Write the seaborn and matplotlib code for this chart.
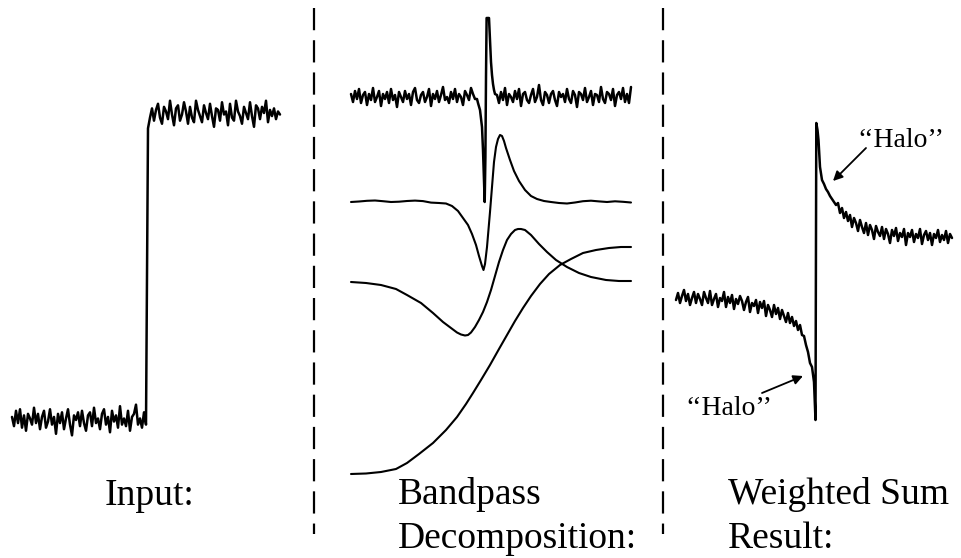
import numpy as np
import pandas as pd
import matplotlib
matplotlib.use("Agg")
import matplotlib.pyplot as plt
import seaborn as sns

# ---------------- data ----------------
# Input step signal, percent of step height, two noisy plateaus
input_low = [1, -2, 3, -1, 3.5, -2.5, 1.5, -3.5, 2, 0.5, -1.5, 4, -1, 2, -3, 1, 3, -2.5, -0.5, 3.5,
             -1.5, 1, -4.5, 2, -1, 2.5, -3, 0.5, 3.5, -1.5, -5, 1.5, 0, 2.5, -2, 3, -1, -3.5, 1.5, 2.5,
             -2, 4, -1, 0.5, -3, 2, 3.5, -1.5, 1, -4, 3, -0.5, 1.5, -2.5, 4.5, -1.5, 0.5, -2, 3, -3.5,
             1, 2, 5, -1.5, 0.5, -2.5, 2.5, -1.5]
input_high = [95, 98.5, 101.5, 97.5, 101, 103, 98.5, 96.5, 102, 100.5, 98, 104, 99.5, 96, 101.5, 102.5,
              97.5, 99.5, 103.5, 100.5, 96.5, 102, 98.5, 97, 104, 101, 99, 97, 102.5, 100, 98, 103, 99,
              95.5, 101.5, 101, 97.5, 103.5, 99.5, 100.5, 96, 103, 98.5, 97.5, 104, 100.5, 99, 96.5, 102,
              100, 98, 103.5, 99, 95.5, 102.5, 101.5, 98, 102, 100, 104, 97, 101, 99, 101.5, 98, 100.5, 99.5]

# Band 1 (finest scale): noise, spike, noise
band1_left = [3, -5, 6, -2, 8, -6, 2, 5, -8, 3, -3, 9, -5, 0, 6, -9, 3, -2, 5, -6, 8, -3, 2, -10, 5, 0,
              -5, 6, -2, 3, -8, 5, 9, -3, -6, 2, 5, -5, 0, 8, -9, 3, -2, 6, -5, 2, 10, -3, 0, -6, 5, -2,
              8, -5, 3, 0, -8, 6, 2, -3, 9, 3, -2]
band1_spike_t = [126, 127, 129, 131, 132, 133, 133.7, 134.4, 135.0, 135.6, 137, 138, 139, 140, 141, 142, 143, 144]
band1_spike_v = [-2, -6, -13, -30, -53, -85, -105, -60, 20, 79, 79, 79, 58, 35, 22, 13, 7, 3]
band1_right = [2, -6, 5, -3, 9, -8, 3, 0, -5, 6, -2, 8, -9, 3, 5, -3, -6, 2, 8, -5, 0, 12, -3, -8, 5, 2,
               -6, 3, 6, -3, -9, 5, 0, 3, -5, 8, -2, -6, 6, 2, -10, 5, 3, -3, 9, -5, 0, 6, -8, 3, 2, -5,
               10, -2, -6, 5, 3, -3, 8, -9, 2, 5, -2, 9, -5, 3, -6, 10]

band2_t = [0, 8, 16, 24, 32, 40, 48, 56, 64, 72, 80, 88, 95, 101, 107, 112, 117, 121, 125, 128,
           131, 132.5, 134, 136, 139, 141, 143, 145, 147, 149, 151, 153, 155, 159, 163, 168, 174, 180,
           186, 193, 200, 208, 216, 224, 232, 240, 248, 256, 264, 272, 280]
band2_v = [0, 0.5, 1.2, 1.5, 0.8, 0, 0.3, 1.0, 1.4, 0.9, -0.6, -1.0, -1.5, -4, -9, -16, -23, -32, -43,
           -54, -64, -68, -62, -45, -10, 15, 40, 55, 63, 67, 66, 61, 54, 42, 31, 21, 12, 6, 3, 1, 0, -1,
           -1.5, -0.5, 0.8, 1.3, 0.6, 0, 0.7, 0.2, -0.5]

band3_t = [0, 15, 30, 45, 56, 70, 82, 92, 100, 106, 110, 114, 117, 120, 124, 128, 132, 136, 140, 144,
           148, 152, 156, 160, 164, 167, 170, 174, 180, 188, 196, 205, 216, 228, 240, 255, 268, 280]
band3_v = [0, -1, -3, -7, -13, -21, -31, -40, -46, -50.5, -52.5, -53.5, -53, -50.5, -45, -38, -30, -20,
           -8, 6, 20, 32, 42, 48, 52, 53, 53, 52, 47, 38, 30, 22, 15, 9, 5, 2, 1, 1]

band4_t = [0, 15, 30, 45, 56, 68, 82, 95, 106, 115, 122, 130, 139, 148, 156, 164, 172, 180, 189, 198,
           209, 220, 232, 245, 258, 270, 280]
band4_v = [0, 0.5, 2, 5, 11, 20, 31, 44, 57, 70, 81, 94, 109, 125, 139, 153, 166, 178, 190, 200, 209,
           215, 221, 224, 226, 227, 227]

# Weighted-sum result
result_left = [120, 127, 117, 124, 130, 119, 126, 115, 122, 128, 117,
               126, 121, 115, 128, 122, 117, 129, 115, 121, 126, 113, 122, 119, 128,
               113, 123, 117, 125, 111, 121, 116, 124, 119, 110, 118, 123, 108, 117, 114, 120,
               107, 118, 112, 119, 104, 115, 110, 103, 115, 106, 112, 101, 110, 104, 98,
               107, 97, 103, 94, 99, 90, 95, 85, 84, 75, 68, 57, 53, 38]
result_edge_t = [139.5, 140.3, 141.5, 142.5, 144, 146]
result_edge_v = [0, 297, 290, 280, 253, 240]
result_right = [236, 231, 228, 224, 221, 218,
                215, 217, 207, 212, 202, 208, 199, 205, 193, 202, 197, 189, 200, 193, 187, 197, 185,
                195, 190, 181, 194, 188, 184, 193, 181, 191, 186, 177, 190, 184, 192, 179, 187, 183,
                191, 175, 187, 183, 190, 178, 186, 182, 191, 176, 185, 189, 180, 187, 175, 186, 182,
                190, 178, 185, 180, 189, 177, 186, 182]

panel_titles = ["Input:", "Bandpass\nDecomposition:", "Weighted Sum\nResult:"]
halo_label = "\u2018\u2018Halo\u2019\u2019"

# ---------------- figure ----------------
W, H = 961, 558
sns.set_style("white")
plt.rcParams["font.family"] = ["Liberation Serif", "DejaVu Serif"]
plt.rcParams["text.color"] = "black"
plt.rcParams["lines.scale_dashes"] = False
fig = plt.figure(figsize=(W / 100, H / 100), dpi=100)
fig.patch.set_facecolor("white")


def panel(x0_px, x_scale, y0_py, y_scale):
    """Transparent full-figure axes: data x=0 at x0_px, data y=0 at y0_py."""
    ax = fig.add_axes([0, 0, 1, 1])
    ax.set_axis_off()
    ax.patch.set_alpha(0)
    ax.set_xlim(-x0_px / x_scale, (W - x0_px) / x_scale)
    ax.set_ylim(-(H - y0_py) / y_scale, y0_py / y_scale)
    return ax


def draw(ax, t, v, lw):
    df = pd.DataFrame({"t": t, "v": v})
    sns.lineplot(data=df, x="t", y="v", ax=ax, color="black", linewidth=lw,
                 estimator=None, sort=False, legend=False)
    ax.set_axis_off()


# Input panel
ax_in = panel(12, 2, 420, 3.07)
t_in = np.concatenate([np.arange(len(input_low)), len(input_low) + np.arange(len(input_high))])
draw(ax_in, t_in, np.concatenate([input_low, input_high]), 1.8)

# Bandpass panels
ax_b1 = panel(351, 1, 97, 1)
t_b1 = np.concatenate([2 * np.arange(len(band1_left)), band1_spike_t,
                       146 + 2 * np.arange(len(band1_right))])
draw(ax_b1, t_b1, np.concatenate([band1_left, band1_spike_v, band1_right]), 1.8)
ax_b2 = panel(351, 1, 202, 1)
draw(ax_b2, band2_t, band2_v, 1.5)
ax_b3 = panel(351, 1, 282, 1)
draw(ax_b3, band3_t, band3_v, 1.5)
ax_b4 = panel(351, 1, 474, 1)
draw(ax_b4, band4_t, band4_v, 1.5)

# Result panel
ax_r = panel(676, 1, 420, 1)
t_r = np.concatenate([2 * np.arange(len(result_left)), result_edge_t,
                      148 + 2 * np.arange(len(result_right))])
draw(ax_r, t_r, np.concatenate([result_left, result_edge_v, result_right]), 1.8)

# Layout overlay in pixel coordinates
ax_o = fig.add_axes([0, 0, 1, 1])
ax_o.set_axis_off()
ax_o.patch.set_alpha(0)
ax_o.set_xlim(0, W)
ax_o.set_ylim(H, 0)
for xd in (314, 663):
    ax_o.plot([xd, xd], [8, 534], color="black", lw=1.6, ls=(0, (16, 7.2)), solid_capstyle="butt")

# Titles
ax_o.text(105, 505, panel_titles[0], fontsize=27, va="baseline", ha="left", color="black")
for x_left, title in ((398, panel_titles[1]), (728, panel_titles[2])):
    l1, l2 = title.split("\n")
    ax_o.text(x_left, 504, l1, fontsize=27, va="baseline", ha="left", color="black")
    ax_o.text(x_left, 548, l2, fontsize=27, va="baseline", ha="left", color="black")

# Halo annotations
ax_o.text(857, 147, halo_label, fontsize=20, va="baseline", ha="left", color="black")
ax_o.text(685, 415, halo_label, fontsize=20, va="baseline", ha="left", color="black")
arrow = dict(arrowstyle="-|>", color="black", lw=1.3, mutation_scale=14, shrinkA=0, shrinkB=0)
ax_o.annotate("", xy=(833, 181), xytext=(866, 148), arrowprops=arrow)
ax_o.annotate("", xy=(803, 376), xytext=(762, 393), arrowprops=arrow)

fig.savefig("out.png", dpi=100, facecolor="white")
